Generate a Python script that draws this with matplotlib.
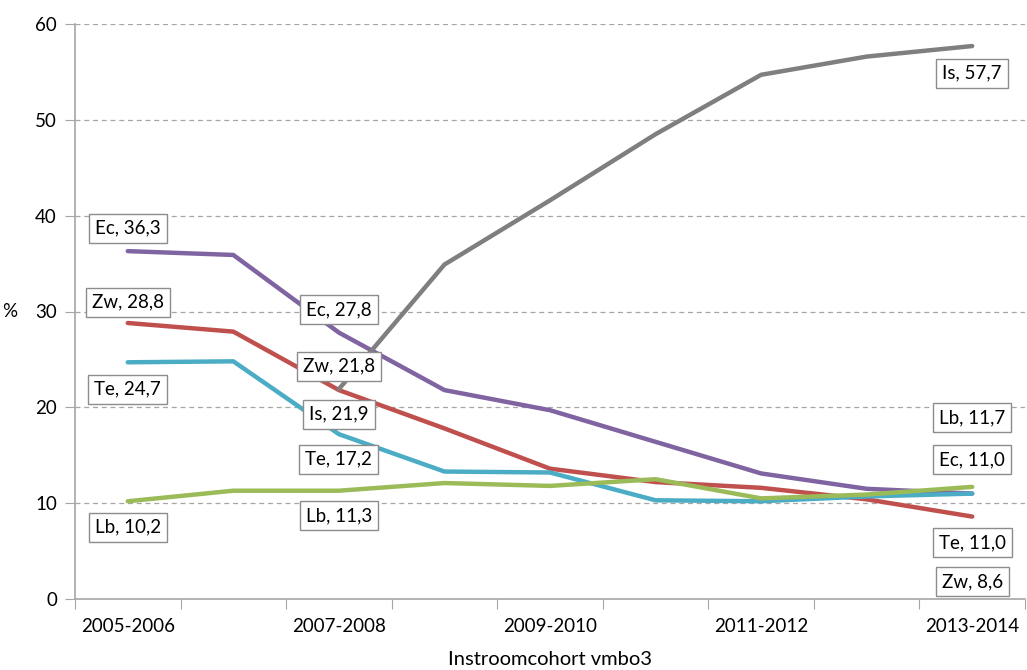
import matplotlib
matplotlib.use("Agg")
import matplotlib.pyplot as plt

plt.rcParams['font.family'] = ['Lato', 'DejaVu Sans']

cohorts = ["2005-2006", "2006-2007", "2007-2008", "2008-2009", "2009-2010",
           "2010-2011", "2011-2012", "2012-2013", "2013-2014"]
tick_labels = ["2005-2006", "", "2007-2008", "", "2009-2010", "", "2011-2012", "", "2013-2014"]

is_vals = [None, None, 21.9, 34.9, 41.6, 48.5, 54.7, 56.6, 57.7]
ec_vals = [36.3, 35.9, 27.8, 21.8, 19.7, 16.4, 13.1, 11.5, 11.0]
zw_vals = [28.8, 27.9, 21.8, 17.8, 13.6, 12.2, 11.6, 10.4, 8.6]
te_vals = [24.7, 24.8, 17.2, 13.3, 13.2, 10.3, 10.2, 10.7, 11.0]
lb_vals = [10.2, 11.3, 11.3, 12.1, 11.8, 12.5, 10.5, 10.9, 11.7]

series = [
    ("Ec", ec_vals, "#8064A2"),
    ("Zw", zw_vals, "#C0504D"),
    ("Te", te_vals, "#4BACC6"),
    ("Lb", lb_vals, "#9BBB59"),
    ("Is", is_vals, "#7F7F7F"),
]

# labelled points: (series, index, vertical offset in pixels)
labels = [
    ("Ec", 0, 23), ("Zw", 0, 21), ("Te", 0, -27), ("Lb", 0, -26),
    ("Ec", 2, 23), ("Zw", 2, 24), ("Is", 2, -25), ("Te", 2, -25), ("Lb", 2, -25),
    ("Is", 8, -27), ("Lb", 8, 69), ("Ec", 8, 34), ("Te", 8, -49), ("Zw", 8, -65),
]

fig = plt.figure(figsize=(10.27, 6.70), dpi=100)
ax = fig.add_axes([75 / 1027, 1 - 599 / 670, 950 / 1027, 575 / 670])

x = list(range(len(cohorts)))
data = {}
for name, vals, color in series:
    xs = [i for i, v in zip(x, vals) if v is not None]
    ys = [v for v in vals if v is not None]
    data[name] = dict(zip(xs, ys))
    ax.plot(xs, ys, color=color, lw=3.2, solid_capstyle='round', zorder=3)

for name, idx, dy in labels:
    v = data[name][idx]
    txt = f"{name}, {v:.1f}".replace(".", ",")
    ax.annotate(txt, (idx, v), xytext=(0, dy), textcoords='offset pixels',
                ha='center', va='center', fontsize=13.5, zorder=5,
                bbox=dict(boxstyle='square,pad=0.32', fc='white', ec='#8c8c8c', lw=1))

ax.set_xlim(-0.5, 8.5)
ax.set_ylim(0, 60)
ax.set_yticks(range(0, 61, 10))
ax.set_xticks([i + 0.5 for i in range(-1, 9)], minor=False)
ax.set_xticklabels([])
ax.set_xticks(x, minor=True)
ax.set_xticklabels(tick_labels, minor=True)
ax.tick_params(axis='x', which='major', length=7, color='#a6a6a6', direction='out')
ax.tick_params(axis='x', which='minor', length=0, pad=14, labelsize=13.5)
ax.tick_params(axis='y', length=7, color='#a6a6a6', direction='out', labelsize=13.5, pad=6)

for y in range(10, 61, 10):
    ax.axhline(y, color='#a6a6a6', lw=0.9, ls=(0, (4, 3)), zorder=1)

for s in ['top', 'right']:
    ax.spines[s].set_visible(False)
for s in ['left', 'bottom']:
    ax.spines[s].set_color('#a6a6a6')
    ax.spines[s].set_linewidth(1.2)

ax.set_ylabel("%", rotation=0, fontsize=13.5, labelpad=18, va='center')
ax.set_xlabel("Instroomcohort vmbo3", fontsize=14.5, labelpad=11)

fig.savefig("out.png", dpi=100)
